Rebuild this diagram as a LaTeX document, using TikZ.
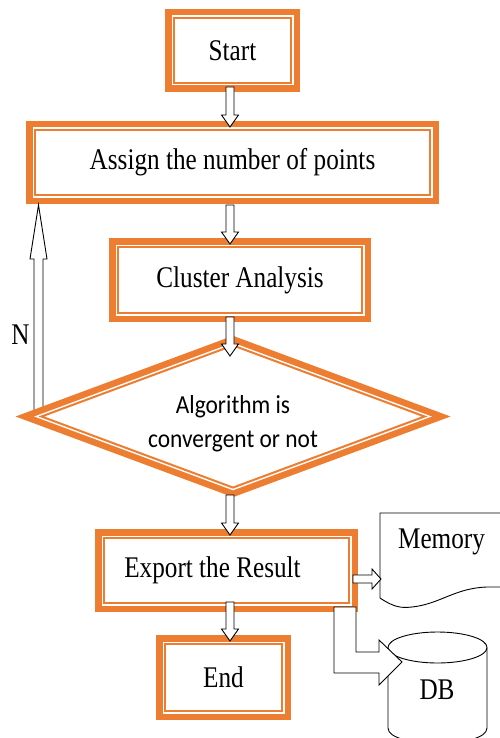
\documentclass[tikz,border=0pt]{standalone}
\usepackage{fontspec}
\usetikzlibrary{shapes.geometric,calc}
\newfontfamily\boxfont{Liberation Serif}[FakeStretch=0.84]
\newfontfamily\decfont{Carlito}[FakeStretch=0.9]
\definecolor{frameorange}{HTML}{ED7D31}
\tikzset{
    framebox/.style={draw=frameorange,line width=2pt,fill=white,
        preaction={draw=frameorange,line width=18pt},
        preaction={draw=white,line width=5pt},
        inner sep=0pt,font=\boxfont\fontsize{30}{36}\selectfont},
    decbox/.style={framebox,diamond,miter limit=10},
    dectext/.style={font=\decfont\fontsize{26}{34}\selectfont,align=center,inner sep=0pt},
    plaintext/.style={font=\boxfont\fontsize{30}{36}\selectfont,inner sep=0pt},
    arrowline/.style={draw=black,line width=0.9pt,fill=white,line join=miter},
    downarrow/.style={arrowline,to path={let \p1=(\tikztostart),\p2=(\tikztotarget) in
        (\x1-4pt,\y1-3pt) -- (\x1-4pt,\y2+14pt) -- (\x1-8.5pt,\y2+14pt) -- (\x1,\y2+2pt)
        -- (\x1+8.5pt,\y2+14pt) -- (\x1+4pt,\y2+14pt) -- (\x1+4pt,\y1-3pt) -- cycle}},
    uparrow/.style={arrowline,to path={let \p1=(\tikztostart),\p2=(\tikztotarget) in
        (\x1-4.5pt,\y1) -- (\x1-4.5pt,\y2-54pt) -- (\x1-8.5pt,\y2-54pt) -- (\x1,\y2)
        -- (\x1+8.5pt,\y2-54pt) -- (\x1+4.5pt,\y2-54pt) -- (\x1+4.5pt,\y1) -- cycle}},
    rightarrow/.style={arrowline,to path={let \p1=(\tikztostart),\p2=(\tikztotarget) in
        (\x1,\y1+4pt) -- (\x2-9pt,\y1+4pt) -- (\x2-9pt,\y1+10pt) -- (\x2,\y1)
        -- (\x2-9pt,\y1-10pt) -- (\x2-9pt,\y1-4pt) -- (\x1,\y1-4pt) -- cycle}},
    elbowarrow/.style={arrowline,to path={let \p1=(\tikztostart),\p2=(\tikztotarget) in
        (\x1-11pt,\y1) -- (\x1-11pt,\y2-11pt) -- (\x2-23pt,\y2-11pt) -- (\x2-23pt,\y2-23pt) -- (\x2,\y2)
        -- (\x2-23pt,\y2+22pt) -- (\x2-23pt,\y2+10pt) -- (\x1+11pt,\y2+10pt) -- (\x1+11pt,\y1) -- cycle}}
}
\begin{document}
\begin{tikzpicture}[x=1pt,y=-1pt]
                \useasboundingbox (0,0) rectangle (499,738);
                \coordinate (axis) at (230,0);
                \node[framebox,minimum width=117pt,minimum height=65pt] (st) at (232.5,50.5) {Start};
                \node[framebox,minimum width=395pt,minimum height=65pt] (as) at (232.5,162.5) {Assign the number of points};
                \node[framebox,minimum width=244pt,minimum height=66pt] (cl) at (240,280) {Cluster Analysis};
                \coordinate (nbot) at (38.5,416);
                \draw[uparrow] (nbot) to ($(nbot |- as.south)+(0,9)$);
                \node[plaintext] (n) at (20.5,335) {N};
                \node[decbox,minimum width=384pt,minimum height=143pt] (dec) at (233,416.5) {};
                \node[dectext] (dectxt) at (233,424) {Algorithm is\\convergent or not};
                \node[framebox,minimum width=245pt,minimum height=65pt] (ex) at (226.5,570.5) {Export the Result\hspace*{28pt}};
                \node[framebox,minimum width=117pt,minimum height=67pt] (en) at (223.5,677.5) {End};
                \draw[line width=0.9pt,fill=white] (505,513) -- (380,513) -- (380,598) .. controls (395,608) and (402,608) .. (412,607)
                    .. controls (440,604) and (455,588) .. (487,587) -- (505,587);
                \node[plaintext] (mem) at (441.5,542) {Memory};
                \coordinate (memin) at (381,579);
                \draw[line width=0.9pt,fill=white] (388,647.5) -- (388,728) .. controls (388,748.5) and (487,748.5) .. (487,728) -- (487,647.5);
                \draw[line width=0.9pt,fill=white] (437.5,647.5) ellipse [x radius=49.5,y radius=15.5];
                \node[plaintext] (db) at (437,690) {DB};
                \coordinate (dbin) at (402,662);
                \draw[downarrow] (axis |- st.south) to (axis |- as.north);
                \draw[downarrow] ([yshift=-6pt]axis |- as.south) to (axis |- cl.north);
                \draw[downarrow] (axis |- cl.south) to ([yshift=-14pt]axis |- dec.north);
                \draw[downarrow] ([yshift=-3pt]axis |- dec.south) to (axis |- ex.north);
                \draw[downarrow] ([yshift=5pt]axis |- ex.south) to (axis |- en.north);
                \draw[rightarrow] ($(ex.east)+(3,8.5)$) to (memin);
                \draw[elbowarrow] ($(ex.south east)+(-5,3)$) to (dbin);
            \end{tikzpicture}
\end{document}
